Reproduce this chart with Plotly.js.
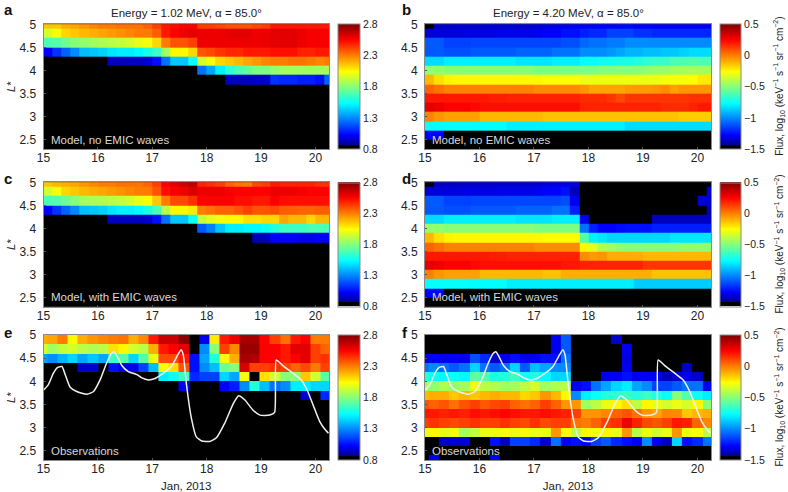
<!DOCTYPE html>
<html>
<head>
<meta charset="utf-8">
<script src="https://cdn.plot.ly/plotly-3.0.1.min.js"></script>
<style>html,body{margin:0;padding:0;background:#fff}</style>
</head>
<body>
<div id="chart" style="width:788px;height:492px"></div>
<script>
// Time bin centres (day of Jan 2013)
const modelDays = [15.08,15.25,15.42,15.58,15.75,15.92,16.08,16.25,16.42,16.58,16.75,16.92,17.08,17.25,17.42,17.58,17.75,17.92,18.08,18.25,18.42,18.58,18.75,18.92,19.08,19.25,19.42,19.58,19.75,19.92,20.08,20.25];
const obsDays = [14.98,15.165,15.35,15.535,15.72,15.91,16.095,16.28,16.465,16.65,16.84,17.025,17.21,17.395,17.58,17.77,17.955,18.14,18.325,18.51,18.70,18.885,19.07,19.255,19.44,19.63,19.815,20.0,20.185];
// L* bin centres
const modelL = [5.0,4.8,4.6,4.4,4.2,4.0,3.8,3.6,3.4,3.2,3.0,2.8,2.6,2.4];
const obsL = [4.9,4.7,4.5,4.3,4.1,3.9,3.7,3.5,3.3,3.1,2.9,2.7,2.5,2.3];

const m08 = [.8,.8,.8,.8,.8,.8,.8,.8,.8,.8,.8,.8,.8,.8,.8,.8,.8,.8,.8,.8,.8,.8,.8,.8,.8,.8,.8,.8,.8,.8,.8,.8];
const m15 = [-1.5,-1.5,-1.5,-1.5,-1.5,-1.5,-1.5,-1.5,-1.5,-1.5,-1.5,-1.5,-1.5,-1.5,-1.5,-1.5,-1.5,-1.5,-1.5,-1.5,-1.5,-1.5,-1.5,-1.5,-1.5,-1.5,-1.5,-1.5,-1.5,-1.5,-1.5,-1.5];
const o08 = [.8,.8,.8,.8,.8,.8,.8,.8,.8,.8,.8,.8,.8,.8,.8,.8,.8,.8,.8,.8,.8,.8,.8,.8,.8,.8,.8,.8,.8];
const o15 = [-1.5,-1.5,-1.5,-1.5,-1.5,-1.5,-1.5,-1.5,-1.5,-1.5,-1.5,-1.5,-1.5,-1.5,-1.5,-1.5,-1.5,-1.5,-1.5,-1.5,-1.5,-1.5,-1.5,-1.5,-1.5,-1.5,-1.5,-1.5,-1.5];

const fluxA = [
[2.15,2.15,2.2,2.22,2.25,2.28,2.3,2.3,2.32,2.32,2.32,2.35,2.42,2.5,2.52,2.55,2.55,2.42,2.42,2.4,2.38,2.38,2.38,2.4,2.42,2.5,2.5,2.5,2.5,2.5,2.5,2.5],
[1.95,2.02,2.12,2.15,2.18,2.2,2.22,2.24,2.26,2.28,2.3,2.3,2.36,2.5,2.55,2.58,2.6,2.58,2.58,2.58,2.6,2.6,2.6,2.58,2.58,2.6,2.6,2.6,2.58,2.56,2.56,2.56],
[1.68,1.7,1.75,1.8,1.82,1.85,1.88,1.9,1.92,1.95,2.0,2.02,2.12,2.3,2.38,2.38,2.42,2.58,2.58,2.58,2.58,2.58,2.58,2.58,2.58,2.6,2.6,2.6,2.58,2.56,2.56,2.56],
[1.02,1.12,1.22,1.3,1.4,1.42,1.44,1.48,1.5,1.5,1.52,1.58,1.65,1.85,2.05,2.05,2.12,2.38,2.4,2.44,2.47,2.47,2.5,2.5,2.5,2.52,2.52,2.52,2.48,2.48,2.5,2.5],
[.8,.8,.8,.8,.8,.8,.8,.93,.93,.93,.93,.95,1.05,1.25,1.42,1.42,1.55,1.95,2.02,2.12,2.15,2.18,2.22,2.25,2.28,2.3,2.3,2.32,2.32,2.3,2.28,2.3],
[.8,.8,.8,.8,.8,.8,.8,.8,.8,.8,.8,.8,.8,.8,.8,.8,.8,1.25,1.35,1.5,1.62,1.68,1.72,1.78,1.78,1.82,1.85,1.85,1.85,1.85,1.85,1.85],
[.8,.8,.8,.8,.8,.8,.8,.8,.8,.8,.8,.8,.8,.8,.8,.8,.8,.8,.8,.8,.93,.93,.93,.95,.95,1.12,1.1,1.1,1.08,1.08,1.05,1.22],
m08,m08,m08,m08,m08,m08,m08];

const fluxC = [
[2.15,2.18,2.2,2.22,2.25,2.28,2.3,2.3,2.32,2.32,2.32,2.35,2.42,2.55,2.6,2.65,2.68,2.48,2.45,2.42,2.35,2.32,2.3,2.4,2.42,2.5,2.48,2.48,2.48,2.48,2.45,2.45],
[1.95,2.02,2.12,2.15,2.18,2.2,2.22,2.24,2.26,2.28,2.3,2.3,2.38,2.52,2.56,2.58,2.62,2.58,2.58,2.58,2.56,2.55,2.55,2.55,2.55,2.58,2.58,2.58,2.56,2.55,2.55,2.55],
[1.68,1.7,1.75,1.8,1.85,1.87,1.88,1.9,1.92,1.95,2.0,2.03,2.15,2.3,2.4,2.4,2.45,2.55,2.55,2.55,2.55,2.52,2.52,2.5,2.5,2.55,2.52,2.52,2.52,2.52,2.52,2.52],
[1.02,1.12,1.22,1.3,1.4,1.42,1.44,1.48,1.5,1.5,1.52,1.58,1.68,1.9,2.05,2.05,2.08,2.3,2.32,2.35,2.35,2.38,2.42,2.38,2.38,2.4,2.36,2.36,2.35,2.35,2.36,2.36],
[.8,.8,.8,.8,.8,.8,.8,.93,.93,.93,.93,.95,1.05,1.25,1.42,1.42,1.55,1.92,1.98,2.02,2.05,2.05,2.1,2.1,2.12,2.12,2.22,2.18,2.18,2.12,2.18,2.18],
[.8,.8,.8,.8,.8,.8,.8,.8,.8,.8,.8,.8,.8,.8,.8,.8,.8,1.2,1.28,1.42,1.5,1.5,1.52,1.52,1.55,1.6,1.65,1.65,1.65,1.68,1.68,1.68],
[.8,.8,.8,.8,.8,.8,.8,.8,.8,.8,.8,.8,.8,.8,.8,.8,.8,.8,.8,.8,.8,.8,.8,.92,.92,1.02,1.02,1.02,1.0,1.0,1.02,1.02],
m08,m08,m08,m08,m08,m08,m08];

const fluxB = [
[-1.5,-1.37,-1.37,-1.36,-1.36,-1.36,-1.36,-1.35,-1.35,-1.35,-1.35,-1.35,-1.34,-1.33,-1.32,-1.32,-1.3,-1.3,-1.3,-1.28,-1.28,-1.27,-1.27,-1.28,-1.28,-1.3,-1.3,-1.3,-1.3,-1.3,-1.3,-1.3],
[-1.34,-1.33,-1.33,-1.33,-1.32,-1.32,-1.32,-1.32,-1.31,-1.31,-1.31,-1.31,-1.3,-1.28,-1.28,-1.25,-1.25,-1.22,-1.2,-1.2,-1.15,-1.15,-1.15,-1.18,-1.18,-1.2,-1.2,-1.2,-1.2,-1.2,-1.2,-1.2],
[-1.1,-1.1,-1.15,-1.15,-1.15,-1.14,-1.14,-1.14,-1.14,-1.14,-1.14,-1.14,-1.14,-1.14,-1.14,-1.12,-1.12,-1.07,-1.05,-1.05,-1.03,-1.03,-1.0,-1.0,-1.0,-1.0,-1.0,-1.0,-1.0,-1.0,-1.0,-1.0],
[-1.1,-1.1,-1.12,-1.12,-1.12,-1.1,-1.1,-1.1,-1.1,-1.1,-1.08,-1.08,-1.08,-1.08,-1.05,-1.05,-1.05,-1.0,-1.0,-1.0,-.98,-.95,-.92,-.92,-.9,-.9,-.88,-.88,-.86,-.84,-.84,-.84],
[-.84,-.84,-.8,-.8,-.8,-.8,-.8,-.8,-.8,-.8,-.82,-.82,-.82,-.82,-.8,-.8,-.8,-.76,-.76,-.74,-.74,-.72,-.72,-.7,-.68,-.66,-.66,-.62,-.62,-.6,-.62,-.62],
[-.48,-.48,-.5,-.5,-.5,-.5,-.5,-.5,-.5,-.5,-.5,-.5,-.52,-.52,-.52,-.52,-.52,-.52,-.52,-.5,-.5,-.5,-.5,-.5,-.48,-.46,-.46,-.45,-.44,-.44,-.44,-.44],
[-.12,-.2,-.24,-.25,-.25,-.25,-.25,-.25,-.25,-.25,-.25,-.25,-.25,-.26,-.26,-.26,-.26,-.3,-.3,-.3,-.3,-.3,-.3,-.3,-.3,-.3,-.28,-.28,-.28,-.26,-.22,-.22],
[.05,.02,-.01,-.01,-.01,-.01,-.01,-.01,-.01,-.01,-.01,-.01,-.03,-.03,-.03,-.03,-.03,-.05,-.08,-.08,-.08,-.08,-.06,-.06,-.06,-.05,-.03,-.07,-.05,-.05,-.05,-.05],
[.2,.2,.2,.2,.2,.2,.2,.19,.19,.18,.18,.18,.18,.18,.18,.18,.18,.16,.16,.16,.14,.1,.14,.14,.14,.14,.14,.14,.14,.15,.15,.15],
[.3,.28,.25,.25,.25,.23,.22,.22,.22,.22,.22,.22,.22,.22,.22,.22,.22,.18,.18,.18,.18,.18,.18,.18,.18,.18,.16,.16,.16,.18,.2,.2],
[-.01,-.05,-.07,-.07,-.07,-.07,-.12,-.12,-.12,-.12,-.12,-.12,-.12,-.14,-.14,-.14,-.14,-.14,-.14,-.14,-.14,-.14,-.14,-.14,-.14,-.14,-.14,-.14,-.16,-.16,-.16,-.16],
[-.76,-.76,-.76,-.76,-.76,-.77,-.77,-.77,-.77,-.8,-.8,-.8,-.8,-.8,-.8,-.8,-.8,-.8,-.8,-.8,-.8,-.8,-.84,-.84,-.84,-.84,-.84,-.84,-.84,-.84,-.84,-.84],
[-1.28,-1.28,-1.5,-1.5,-1.5,-1.5,-1.5,-1.5,-1.5,-1.5,-1.5,-1.5,-1.5,-1.5,-1.5,-1.5,-1.5,-1.5,-1.5,-1.5,-1.5,-1.5,-1.5,-1.5,-1.5,-1.5,-1.5,-1.5,-1.5,-1.5,-1.5,-1.5],
m15];

const fluxD = [
[-1.5,-1.37,-1.37,-1.36,-1.36,-1.36,-1.36,-1.35,-1.35,-1.35,-1.35,-1.35,-1.34,-1.33,-1.32,-1.32,-1.32,-1.5,-1.5,-1.5,-1.5,-1.5,-1.5,-1.5,-1.5,-1.5,-1.5,-1.5,-1.5,-1.5,-1.5,-1.5],
[-1.34,-1.33,-1.33,-1.33,-1.32,-1.32,-1.32,-1.32,-1.31,-1.31,-1.31,-1.31,-1.3,-1.28,-1.28,-1.25,-1.38,-1.5,-1.5,-1.5,-1.5,-1.5,-1.5,-1.5,-1.5,-1.5,-1.5,-1.5,-1.5,-1.5,-1.5,-1.33],
[-1.1,-1.1,-1.15,-1.15,-1.15,-1.14,-1.14,-1.14,-1.14,-1.14,-1.14,-1.14,-1.14,-1.14,-1.14,-1.12,-1.3,-1.5,-1.5,-1.5,-1.5,-1.5,-1.5,-1.5,-1.5,-1.5,-1.5,-1.5,-1.5,-1.5,-1.33,-1.35],
[-1.1,-1.1,-1.12,-1.12,-1.12,-1.1,-1.1,-1.1,-1.1,-1.1,-1.08,-1.08,-1.08,-1.08,-1.05,-1.05,-1.22,-1.5,-1.5,-1.5,-1.5,-1.5,-1.5,-1.5,-1.5,-1.5,-1.5,-1.5,-1.5,-1.5,-1.5,-1.38],
[-.84,-.84,-.8,-.8,-.8,-.8,-.8,-.8,-.8,-.8,-.82,-.82,-.82,-.82,-.8,-.8,-.8,-1.3,-1.5,-1.5,-1.5,-1.5,-1.5,-1.5,-1.5,-1.37,-1.37,-1.37,-1.37,-1.37,-1.37,-1.37],
[-.48,-.48,-.5,-.5,-.5,-.5,-.5,-.5,-.5,-.5,-.5,-.5,-.52,-.52,-.52,-.52,-.52,-1.05,-1.22,-1.28,-1.28,-1.26,-1.25,-1.25,-1.25,-1.22,-1.22,-1.22,-1.22,-1.22,-1.22,-1.22],
[-.12,-.2,-.24,-.25,-.25,-.25,-.25,-.25,-.25,-.25,-.25,-.25,-.25,-.26,-.26,-.26,-.26,-.6,-.8,-.82,-.85,-.85,-.85,-.85,-.85,-.85,-.85,-.82,-.82,-.82,-.82,-.82],
[.05,.02,-.01,-.01,-.01,-.01,-.01,-.01,-.01,-.01,-.01,-.01,-.03,-.03,-.03,-.03,-.03,-.25,-.32,-.42,-.45,-.48,-.5,-.5,-.5,-.5,-.5,-.5,-.48,-.48,-.48,-.48],
[.2,.2,.2,.2,.2,.2,.2,.19,.19,.18,.18,.18,.18,.18,.18,.18,.18,-.03,-.06,-.05,-.1,-.1,-.1,-.1,-.12,-.12,-.12,-.12,-.12,-.12,-.12,-.12],
[.3,.28,.25,.25,.25,.23,.22,.22,.22,.22,.22,.22,.22,.22,.22,.2,.2,.18,.18,.18,.18,.18,.18,.18,.14,.14,.14,.14,.14,.14,.14,.14],
[-.01,-.05,-.07,-.07,-.07,-.07,-.12,-.12,-.12,-.12,-.12,-.12,-.12,-.14,-.14,-.1,-.1,-.1,-.1,-.1,-.1,-.1,-.1,-.1,-.1,-.14,-.14,-.14,-.14,-.14,-.14,-.14],
[-.76,-.76,-.76,-.76,-.76,-.77,-.77,-.77,-.77,-.8,-.8,-.8,-.8,-.8,-.8,-.8,-.8,-.8,-.8,-.8,-.8,-.8,-.8,-.87,-.87,-.87,-.87,-.87,-.87,-.87,-.87,-.87],
[-1.28,-1.28,-1.5,-1.5,-1.5,-1.5,-1.5,-1.5,-1.5,-1.5,-1.5,-1.5,-1.5,-1.5,-1.5,-1.5,-1.5,-1.5,-1.5,-1.5,-1.5,-1.5,-1.5,-1.5,-1.5,-1.5,-1.5,-1.5,-1.5,-1.5,-1.5,-1.5],
m15];

const fluxE = [
[2.2,2.22,2.3,2.05,2.2,2.25,2.28,2.3,2.32,2.2,2.28,2.5,2.65,2.65,2.78,.8,1.0,2.08,2.5,2.58,2.72,2.72,2.55,2.42,2.32,2.5,2.55,2.3,2.3],
[1.95,1.85,1.92,1.95,1.9,1.88,1.9,2.1,2.05,1.95,1.9,2.2,2.5,2.55,2.6,.8,1.3,1.8,2.42,2.28,2.75,2.75,2.55,2.55,2.5,2.6,2.6,2.42,2.35],
[1.35,1.3,1.38,1.45,1.35,1.42,1.35,1.65,1.7,1.45,1.7,2.0,2.4,2.4,2.5,1.05,1.35,1.6,2.02,2.2,2.72,2.7,2.55,2.55,2.5,2.55,2.6,2.42,2.45],
[.8,.8,.8,.8,.95,.95,.8,1.05,.98,.98,1.15,1.4,2.02,2.1,2.38,1.05,1.3,1.4,1.75,1.8,2.62,2.42,2.42,2.45,2.42,2.35,2.4,2.3,2.42],
[.8,.8,.8,.8,.8,.8,.8,.8,.8,.8,.8,.8,1.5,1.55,1.65,1.1,1.15,1.15,1.45,1.35,2.02,.8,2.1,1.95,1.8,1.8,2.15,1.95,1.7],
[.8,.8,.8,.8,.8,.8,.8,.8,.8,.8,.8,.8,.8,.8,1.0,.8,.8,.8,1.02,1.08,1.3,1.6,1.4,1.25,1.3,1.5,1.5,1.45,1.45],
[.8,.8,.8,.8,.8,.8,.8,.8,.8,.8,.8,.8,.8,.8,.8,.8,.8,.8,.8,.8,.8,.8,.8,.8,.8,.8,.95,.8,1.1],
o08,o08,o08,o08,o08,o08,o08];

const fluxF = [
[-1.5,-1.5,-1.5,-1.5,-1.5,-1.5,-1.5,-1.5,-1.5,-1.5,-1.5,-1.5,-1.5,-1.3,-1.1,-1.5,-1.5,-1.5,-1.5,-1.35,-1.5,-1.5,-1.5,-1.5,-1.5,-1.5,-1.5,-1.5,-1.5],
[-1.5,-1.5,-1.5,-1.5,-1.5,-1.5,-1.5,-1.5,-1.5,-1.5,-1.5,-1.5,-1.5,-1.3,-1.1,-1.5,-1.5,-1.5,-1.5,-1.5,-1.3,-1.5,-1.5,-1.5,-1.5,-1.5,-1.5,-1.5,-1.5],
[-1.3,-1.28,-1.3,-1.28,-1.3,-1.12,-1.2,-1.35,-1.3,-1.25,-1.3,-1.3,-1.25,-1.25,-1.05,-1.5,-1.5,-1.5,-1.5,-1.5,-1.32,-1.5,-1.5,-1.5,-1.5,-1.5,-1.5,-1.5,-1.5],
[-1.05,-1.0,-1.05,-1.1,-1.05,-.85,-1.05,-1.1,-1.05,-.85,-1.1,-.9,-.95,-1.0,-1.0,-1.5,-1.5,-1.5,-1.5,-1.5,-1.3,-1.5,-1.5,-1.5,-1.5,-1.5,-1.35,-1.5,-1.5],
[-.7,-.75,-.78,-.75,-.78,-.58,-.62,-.72,-.7,-.65,-.75,-.72,-.78,-.85,-.85,-1.5,-1.5,-1.5,-1.3,-1.3,-1.25,-1.3,-1.3,-1.3,-1.38,-1.35,-1.3,-1.35,-1.5],
[-.45,-.48,-.42,-.48,-.45,-.3,-.4,-.42,-.45,-.45,-.4,-.35,-.45,-.42,-.4,-1.3,-1.25,-1.05,-.95,-.85,-.8,-.95,-1.0,-1.15,-1.15,-1.1,-1.05,-1.05,-1.3],
[-.12,-.1,-.1,-.15,-.12,-.15,-.12,-.1,-.12,-.12,-.18,-.15,-.05,-.12,-.25,-1.0,-.8,-.75,-.7,-.68,-.65,-.7,-.65,-.7,-.75,-.5,-.6,-.75,-.8],
[.08,.05,.08,.02,.08,.12,.07,.1,.12,.05,.02,.05,.12,.05,-.05,-.05,-.45,-.4,-.3,-.25,-.2,-.4,-.25,-.3,-.35,-.3,-.35,-.25,-.5],
[.2,.2,.18,.2,.18,.22,.2,.22,.24,.22,.2,.2,.22,.2,.18,.12,-.05,-.05,-.02,.05,.08,.02,-.05,-.08,-.02,-.03,-.15,-.12,-.1],
[.12,.15,.12,.1,.12,.15,.12,.12,.15,.12,.1,.15,.1,.12,.12,.02,0,.05,.12,.15,.28,.18,.1,.08,.12,.2,.18,.05,-.02],
[-.3,-.25,-.32,-.28,-.45,-.38,-.3,-.3,-.28,-.3,-.28,-.3,-.3,-.05,-.28,-.4,-.25,-.28,-.25,-.3,-.05,-.4,-.3,-.35,-.3,-.05,-.3,-.28,-.4],
[-1.5,-1.5,-1.35,-1.35,-1.35,-1.5,-1.5,-1.25,-1.38,-1.15,-1.15,-1.2,-1.35,-1.05,-1.3,-1.25,-1.28,-1.15,-1.1,-1.2,-1.25,-1.3,-1.0,-1.3,-1.38,-.85,-1.25,-1.2,-1.05],
o15,
[-1.5,-1.3,-1.5,-1.5,-1.5,-1.5,-1.5,-1.3,-1.5,-1.5,-1.5,-1.5,-1.5,-1.5,-1.5,-1.5,-1.5,-1.5,-1.5,-1.5,-1.5,-1.5,-1.5,-1.5,-1.5,-1.5,-1.5,-1.5,-1.5]];

// White curve in panels e and f
const curveDay = [15.0,15.09,15.18,15.26,15.34,15.40,15.49,15.61,15.80,15.92,16.04,16.16,16.25,16.30,16.36,16.44,16.56,16.71,16.80,16.93,17.05,17.20,17.35,17.45,17.53,17.57,17.63,17.72,17.81,17.91,18.06,18.18,18.33,18.49,18.59,18.70,18.85,18.98,19.16,19.25,19.28,19.40,19.59,19.74,19.86,19.98,20.08,20.17,20.24];
const curveL = [3.81,3.93,4.17,4.30,4.32,4.14,3.87,3.78,3.72,3.78,4.03,4.39,4.60,4.64,4.53,4.34,4.21,4.15,4.08,4.03,4.06,4.17,4.32,4.53,4.68,4.57,3.92,3.20,2.80,2.71,2.70,2.78,3.09,3.52,3.69,3.60,3.38,3.27,3.27,3.33,4.46,4.34,4.17,4.03,3.78,3.42,3.13,2.97,2.88];

const lowTicks = [0.8,1.3,1.8,2.3,2.8];
const lowLabels = ['0.8','1.3','1.8','2.3','2.8'];
const highTicks = [-1.5,-1,-0.5,0,0.5];
const highLabels = ['\u22121.5','\u22121','\u22120.5','0','0.5'];
const dayTicks = [15,16,17,18,19,20];
const lTicks = [2.5,3,3.5,4,4.5,5];
const lLabels = ['2.5','3','3.5','4','4.5','5'];
const panelLetters = ['a','b','c','d','e','f'];
const panelNotes = ['Model, no EMIC waves','Model, no EMIC waves','Model, with EMIC waves','Model, with EMIC waves','Observations','Observations'];
const panelTitles = ['Energy = 1.02 MeV, \u03b1 = 85.0\u00b0','Energy = 4.20 MeV, \u03b1 = 85.0\u00b0'];
const fluxLabel = 'Flux, log<sub>10</sub> (keV<sup>\u22121</sup> s<sup>\u22121</sup> sr<sup>\u22121</sup> cm<sup>\u22122</sup>)';

const W = 788, H = 492;
const FONT = '"Liberation Sans", Arial, sans-serif';
const INK = '#222';
const jetBlack = [[0,'#000'],[0.03,'#000'],[0.03,'rgb(0,0,143)'],[0.111,'rgb(0,0,255)'],[0.365,'rgb(0,255,255)'],[0.619,'rgb(255,255,0)'],[0.873,'rgb(255,0,0)'],[1,'rgb(128,0,0)']];

const colLeft = [43.5, 425], colRight = [329, 711], barLeft = [337.5, 720];
const rowTop = [24.3, 182.3, 335], rowBottom = [149, 306.7, 460];

const grids = [fluxA, fluxB, fluxC, fluxD, fluxE, fluxF];
const traces = [], annotations = [];
const layout = {
  width: W, height: H,
  margin: {l:0, r:0, t:0, b:0, autoexpand:false},
  paper_bgcolor:'#fff', plot_bgcolor:'#000',
  showlegend:false,
  font:{family:FONT, color:INK, size:12}
};

grids.forEach((z, i) => {
  const c = i % 2, r = Math.floor(i / 2), n = i + 1;
  const low = c === 0, obs = r === 2;
  const xa = 'xaxis' + n, ya = 'yaxis' + n;
  layout[xa] = {
    domain:[colLeft[c]/W, colRight[c]/W], range:[15,20.25], anchor:'y'+n,
    tickmode:'array', tickvals:dayTicks, ticks:'inside', ticklen:2, tickcolor:'#555', tickfont:{size:12,color:INK},
    ticklabelstandoff:-2,
    showline:true, mirror:true, linecolor:'#8a8a8a', linewidth:1, showgrid:false, zeroline:false
  };
  if (obs) layout[xa].title = {text:'Jan, 2013', font:{size:11.5,color:INK}, standoff:9};
  layout[ya] = {
    domain:[1-rowBottom[r]/H, 1-rowTop[r]/H], range:[2.3,5], anchor:'x'+n,
    tickmode:'array', tickvals:lTicks, ticktext:lLabels, ticks:'inside', ticklen:2, tickcolor:'#555', tickfont:{size:12,color:INK},
    ticklabelstandoff:4,
    showline:true, mirror:true, linecolor:'#8a8a8a', linewidth:1, showgrid:false, zeroline:false
  };
  if (low) layout[ya].title = {text:'<i>L</i>*', font:{size:11.5,color:INK}, standoff:1};

  traces.push({
    type:'heatmap', x: obs ? obsDays : modelDays, y: obs ? obsL : modelL, z,
    xaxis:'x'+n, yaxis:'y'+n,
    zmin: low ? 0.8 : -1.5, zmax: low ? 2.8 : 0.5,
    colorscale: jetBlack, zsmooth:false, hoverinfo:'skip',
    colorbar:{
      x: barLeft[c]/W, xanchor:'left', xpad:0, ypad:0,
      y: 1-(rowTop[r]+rowBottom[r])/2/H, yanchor:'middle',
      len: rowBottom[r]-rowTop[r], lenmode:'pixels',
      thickness: c === 0 ? 22 : 21, thicknessmode:'pixels',
      tickmode:'array', tickvals: low ? lowTicks : highTicks, ticktext: low ? lowLabels : highLabels,
      ticks:'', tickfont:{size:10.5,color:INK},
      outlinecolor:'#8a8a8a', outlinewidth:1, borderwidth:0
    }
  });

  annotations.push({xref:'paper', yref:'paper', x:(c===0?2:400)/W, y:1-[10,179,332][r]/H, xanchor:'left', yanchor:'middle',
    text:'<b>'+panelLetters[i]+'</b>', showarrow:false, font:{size:15,color:'#111'}});
  annotations.push({xref:'x'+n, yref:'y'+n, x:15.1, y:2.5, xanchor:'left', yanchor:'middle',
    text:panelNotes[i], showarrow:false, font:{size:11.5,color:'#d8d8d8'}});
  if (r === 0) annotations.push({xref:'paper', yref:'paper', x:(colLeft[c]+colRight[c])/2/W, y:1-13/H, xanchor:'center', yanchor:'middle',
    text:panelTitles[c], showarrow:false, font:{size:11.5,color:INK}});
  if (c === 1) annotations.push({xref:'paper', yref:'paper', x:779/W, y:1-(rowTop[r]+rowBottom[r])/2/H, xanchor:'center', yanchor:'middle',
    text:fluxLabel, textangle:-90, showarrow:false, font:{size:10,color:INK}});
});

[5,6].forEach(n => traces.push({
  type:'scatter', mode:'lines', x:curveDay, y:curveL, xaxis:'x'+n, yaxis:'y'+n,
  line:{color:'#f0f0f0', width:1.5, shape:'spline', smoothing:0.5}, hoverinfo:'skip'
}));

layout.annotations = annotations;
Plotly.newPlot('chart', traces, layout, {displayModeBar:false, staticPlot:true});
</script>
</body>
</html>
